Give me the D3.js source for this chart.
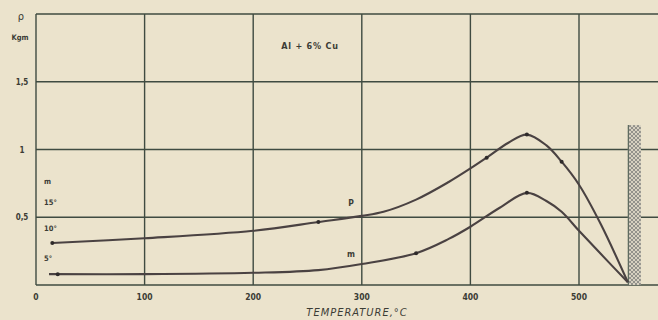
<!DOCTYPE html>
<html><head><meta charset="utf-8">
<script src="https://cdn.jsdelivr.net/npm/d3@7"></script>
<style>html,body{margin:0;padding:0;background:#ebe3cc;}svg{display:block;}</style>
</head><body>
<svg id="chart" width="658" height="320"></svg>
<script>
// ---- data ----
const xTicks = [0, 100, 200, 300, 400, 500];
const xTickLabels = ["0", "100", "200", "300", "400", "500"];
const yTicks = [0.5, 1, 1.5];
const yTickLabels = ["0,5", "1", "1,5"];
const sideLabels = ["m", "15°", "10°", "5°"];
const sideLabelValues = [0.77, 0.61, 0.42, 0.20];

const upperT = [15, 100, 200, 260, 300, 320, 350, 380, 400, 415, 435, 452, 470, 484, 500, 520, 545];
const upperV = [0.31, 0.345, 0.40, 0.465, 0.51, 0.54, 0.63, 0.76, 0.86, 0.94, 1.05, 1.11, 1.03, 0.91, 0.74, 0.45, 0.02];
const upperMarkT = [15, 260, 415, 452, 484];

const lowerT = [12, 100, 200, 260, 300, 350, 380, 400, 427, 452, 470, 484, 500, 520, 545];
const lowerV = [0.08, 0.08, 0.09, 0.11, 0.155, 0.235, 0.34, 0.43, 0.57, 0.68, 0.62, 0.54, 0.40, 0.23, 0.02];
const lowerMarkT = [20, 350, 452];

const bandT = [545, 557];
const bandTop = 1.18;

const title = "Al + 6% Cu";
const xTitle = "TEMPERATURE,°C";

// ---- drawing ----
const W = 658, H = 320;
const svg = d3.select("#chart");
const x = d3.scaleLinear().domain([0, 500]).range([36, 579]);
const y = d3.scaleLinear().domain([0, 2]).range([285, 14]);

const bg = "#ebe3cc", grid = "#3f4b41", ink = "#4a4242", txt = "#3b3c35";
const font = "'DejaVu Sans Condensed', 'DejaVu Sans', sans-serif";

svg.append("rect").attr("width", W).attr("height", H).attr("fill", bg);

const defs = svg.append("defs");
const pat = defs.append("pattern").attr("id", "hatch").attr("width", 4).attr("height", 4)
  .attr("patternUnits", "userSpaceOnUse");
pat.append("rect").attr("width", 4).attr("height", 4).attr("fill", "#d6d0c0");
pat.append("path").attr("d", "M0,0 L4,4 M4,0 L0,4").attr("stroke", "#8a8a84").attr("stroke-width", 0.9);

// grid
const g = svg.append("g");
g.selectAll("line.v").data(xTicks).join("line")
  .attr("x1", d => x(d)).attr("x2", d => x(d))
  .attr("y1", y(2)).attr("y2", y(0))
  .attr("stroke", grid).attr("stroke-width", 1.4);
g.selectAll("line.h").data([0, 0.5, 1, 1.5, 2]).join("line")
  .attr("x1", x(0)).attr("x2", W)
  .attr("y1", d => y(d)).attr("y2", d => y(d))
  .attr("stroke", grid).attr("stroke-width", 1.4);

// hatched band
svg.append("rect")
  .attr("x", x(bandT[0])).attr("y", y(bandTop))
  .attr("width", x(bandT[1]) - x(bandT[0])).attr("height", y(0) - y(bandTop))
  .attr("fill", "url(#hatch)");
svg.append("line")
  .attr("x1", x(bandT[0]) + 0.5).attr("x2", x(bandT[0]) + 0.5)
  .attr("y1", y(bandTop)).attr("y2", y(0))
  .attr("stroke", "#5d6a5e").attr("stroke-width", 1.2);

// curves
const line = d3.line().x(d => x(d[0])).y(d => y(d[1])).curve(d3.curveCatmullRom.alpha(0.5));
const upper = upperT.map((t, i) => [t, upperV[i]]);
const lower = lowerT.map((t, i) => [t, lowerV[i]]);
[upper, lower].forEach(data => {
  svg.append("path").datum(data).attr("d", line)
    .attr("fill", "none").attr("stroke", ink).attr("stroke-width", 2.1);
});
function valAt(ts, vs, t) {
  return d3.scaleLinear().domain(ts).range(vs)(t);
}
svg.selectAll("circle.u").data(upperMarkT).join("circle")
  .attr("cx", d => x(d)).attr("cy", d => y(valAt(upperT, upperV, d)))
  .attr("r", 2).attr("fill", "#2e2a2a");
svg.selectAll("circle.l").data(lowerMarkT).join("circle")
  .attr("cx", d => x(d)).attr("cy", d => y(valAt(lowerT, lowerV, d)))
  .attr("r", 2).attr("fill", "#2e2a2a");

// text
const T = (s, px, py, size, opts = {}) => svg.append("text")
  .attr("x", px).attr("y", py).text(s)
  .attr("font-family", font).attr("font-size", size)
  .attr("font-weight", opts.weight || "bold")
  .attr("font-style", opts.style || "normal")
  .attr("letter-spacing", opts.ls || 0)
  .attr("text-anchor", opts.anchor || "middle")
  .attr("fill", txt);

xTicks.forEach((t, i) => T(xTickLabels[i], x(t), 300, 8.5));
yTicks.forEach((t, i) => T(yTickLabels[i], 22, y(t) + 3, 8));
T("ρ", 21, 20, 11, {weight: "normal"});
T("Kgm", 20, 40, 7.5);
sideLabels.forEach((s, i) => T(s, 44, y(sideLabelValues[i]) + 3, 7.5, {anchor: "start"}));
T("P", x(290), y(0.58), 8.5);
T("m", x(290), y(0.21), 8.5);
T(title, 310, 49, 9, {ls: 0.8});
T(xTitle, 357, 316, 11, {style: "italic", weight: "normal", ls: 1});
</script>
</body></html>
